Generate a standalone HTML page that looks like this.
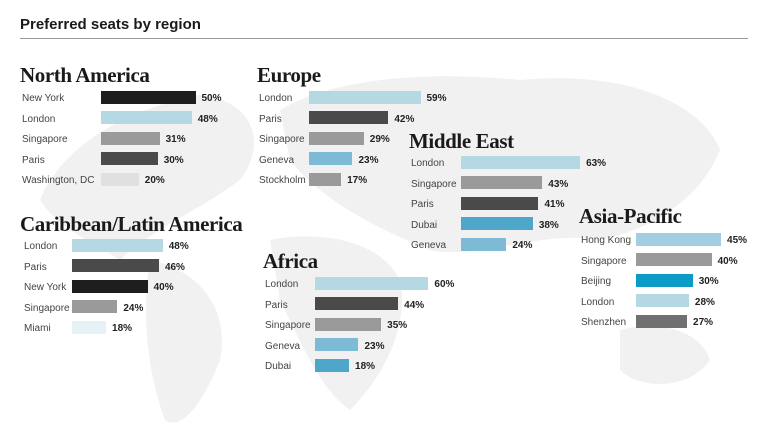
<!DOCTYPE html>
<html><head><meta charset="utf-8"><style>
body{margin:0;width:768px;height:448px;background:#fff;position:relative;overflow:hidden;font-family:"Liberation Sans",sans-serif}
.t{position:absolute;font-family:"Liberation Serif",serif;font-weight:bold;font-size:21px;color:#1a1a1a;letter-spacing:-0.4px;white-space:nowrap}
.l{position:absolute;font-size:10px;color:#444;white-space:nowrap;line-height:12px}
.b{position:absolute;height:13px}
.p{position:absolute;font-size:10px;font-weight:bold;color:#222;line-height:12px}
</style></head><body>
<svg width="768" height="448" style="position:absolute;left:0;top:0">
<g fill="#f1f1f1">
<path d="M40,200 C60,150 120,110 200,95 C250,100 270,140 240,180 C200,210 150,230 120,260 C90,240 60,230 40,200Z"/>
<path d="M150,260 C200,270 230,310 220,360 C200,410 180,430 165,420 C150,380 140,320 150,260Z"/>
<path d="M280,110 C330,80 420,70 520,80 C620,70 700,100 720,150 C700,200 650,230 600,240 C540,230 480,260 430,250 C380,230 320,200 290,160Z"/>
<path d="M270,240 C320,230 380,240 400,280 C410,330 380,380 350,410 C320,390 300,340 280,300Z"/>
<path d="M620,330 C660,320 700,330 710,360 C690,390 640,390 620,370Z"/>
</g>
<text x="20" y="29" font-family="Liberation Sans" font-weight="bold" font-size="15" fill="#1a1a1a">Preferred seats by region</text>
<line x1="20" y1="38.5" x2="748" y2="38.5" stroke="#999" stroke-width="1"/>
</svg>
<div id="c"></div>
<script>
var G=[
["North America",20,63,22,101,97,[["New York",50,"#1e1e1e"],["London",48,"#b5d8e3"],["Singapore",31,"#9a9a9a"],["Paris",30,"#4a4a4a"],["Washington, DC",20,"#e0e0e0"]]],
["Europe",257,63,259,309,97,[["London",59,"#b5d8e3"],["Paris",42,"#4a4a4a"],["Singapore",29,"#9a9a9a"],["Geneva",23,"#7cbad6"],["Stockholm",17,"#9a9a9a"]]],
["Middle East",409,129,411,461,162,[["London",63,"#b5d8e3"],["Singapore",43,"#9a9a9a"],["Paris",41,"#4a4a4a"],["Dubai",38,"#4ea6cb"],["Geneva",24,"#7cbad6"]]],
["Asia-Pacific",579,204,581,636,239,[["Hong Kong",45,"#a3cde0"],["Singapore",40,"#9a9a9a"],["Beijing",30,"#0b9bc4"],["London",28,"#b5d8e3"],["Shenzhen",27,"#707070"]]],
["Caribbean/Latin America",20,212,24,72,245,[["London",48,"#b5d8e3"],["Paris",46,"#4a4a4a"],["New York",40,"#1e1e1e"],["Singapore",24,"#9a9a9a"],["Miami",18,"#e6f1f6"]]],
["Africa",263,249,265,315,283,[["London",60,"#b5d8e3"],["Paris",44,"#4a4a4a"],["Singapore",35,"#9a9a9a"],["Geneva",23,"#7cbad6"],["Dubai",18,"#4ea6cb"]]]];
var h="";
G.forEach(function(g){
h+='<div class="t" style="left:'+g[1]+'px;top:'+g[2]+'px">'+g[0]+'</div>';
g[6].forEach(function(r,i){var y=g[5]+i*20.6;var w=r[1]*1.89;
h+='<div class="l" style="left:'+g[3]+'px;top:'+(y-4)+'px">'+r[0]+'</div>';
h+='<div class="b" style="left:'+g[4]+'px;top:'+(y-6.5)+'px;width:'+w+'px;background:'+r[2]+'"></div>';
h+='<div class="p" style="left:'+(g[4]+w+6)+'px;top:'+(y-4)+'px">'+r[1]+'%</div>';});});
document.getElementById("c").innerHTML=h;
</script>
</body></html>
